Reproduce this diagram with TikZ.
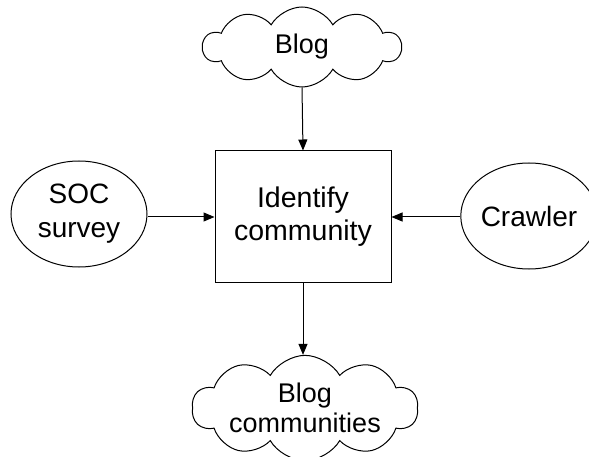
\documentclass[tikz,border=0pt]{standalone}
\usepackage{fontspec}
\setmainfont{Liberation Sans}
\usetikzlibrary{shapes.symbols,shapes.geometric,arrows.meta}
\begin{document}
\begin{tikzpicture}[x=1pt,y=-1pt,
  every node/.style={font=\fontsize{28.5}{33}\selectfont, align=center, inner sep=0pt},
  cloudbox/.style={cloud, draw, line width=1pt, cloud puffs=10, cloud puff arc=120, cloud ignores aspect, font=\fontsize{27}{30}\selectfont},
  ellbox/.style={ellipse, draw, line width=1pt, font=\fontsize{28}{34}\selectfont},
  conn/.style={line width=1pt, -{Triangle[length=11pt,width=9pt]}}]
\useasboundingbox (0,0) rectangle (589,457);
\node[cloudbox, minimum width=198pt, minimum height=80pt] (blog) at (302,47) {Blog};
\node[draw, line width=1pt, minimum width=176pt, minimum height=131pt] (id) at (303,216.5) {Identify\\community};
\node[ellbox, minimum width=136pt, minimum height=106pt] (soc) at (79,214) {SOC\\survey};
\node[ellbox, minimum width=134pt, minimum height=106pt] (crawl) at (529,216) {Crawler};
\node[cloudbox, minimum width=226pt, minimum height=87pt] (bc) at (305,408) {Blog\\communities};
\draw[conn] (blog.south) -- (id.north);
\draw[conn] (soc.east |- 0,217) -- (id.west |- 0,217);
\draw[conn] (crawl.west |- 0,217) -- (id.east |- 0,217);
\draw[conn] (id.south) -- (id.south |- bc.north);
\end{tikzpicture}
\end{document}
